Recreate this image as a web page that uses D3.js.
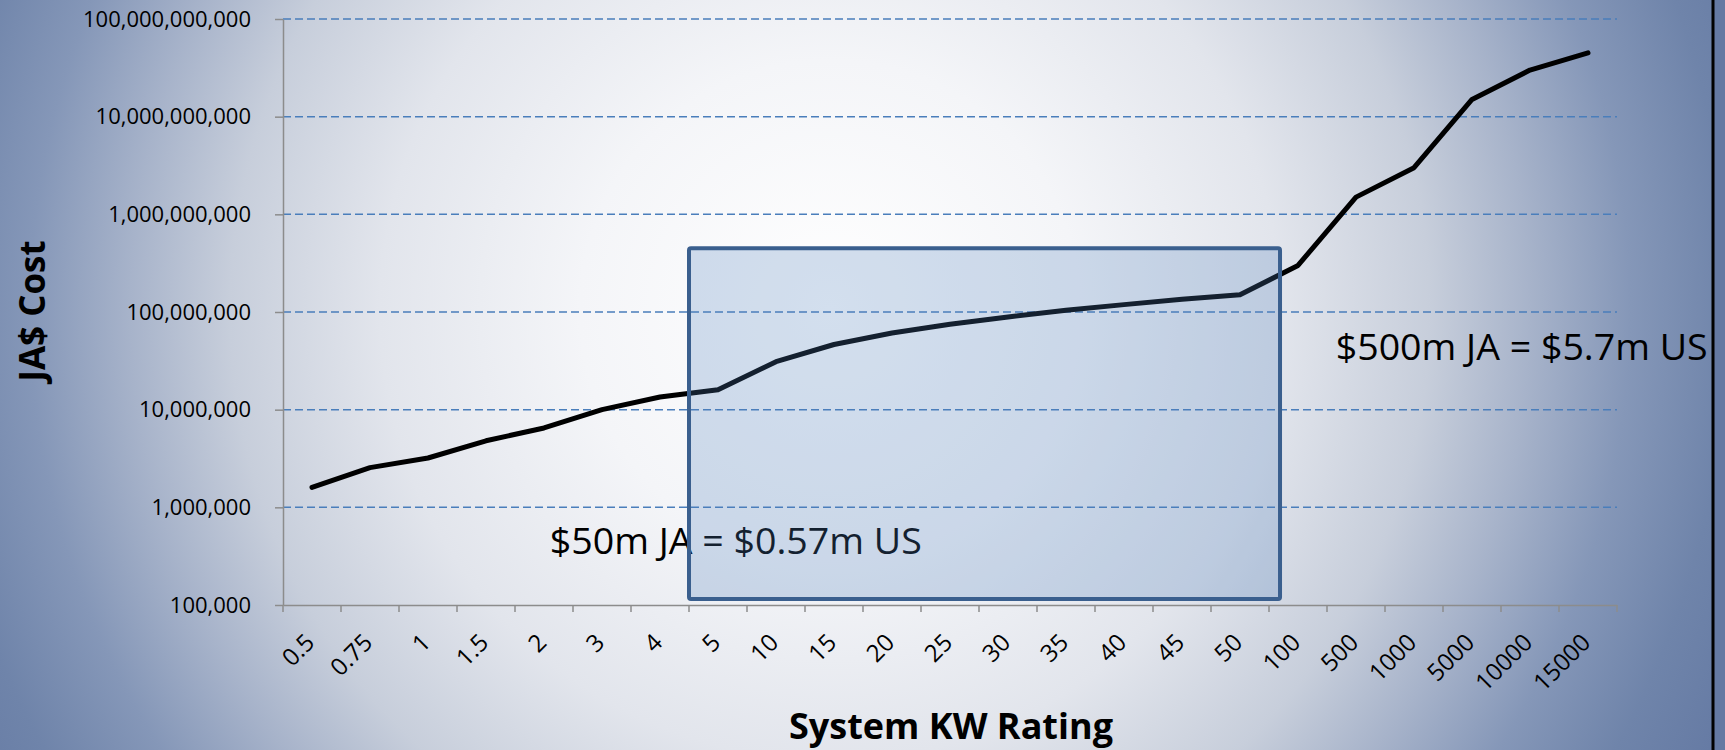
<!DOCTYPE html>
<html>
<head>
<meta charset="utf-8">
<script src="https://cdnjs.cloudflare.com/ajax/libs/d3/7.8.5/d3.min.js"></script>
<style>
  body { margin: 0; overflow: hidden; }
  svg { display: block; }
</style>
</head>
<body>
<svg></svg>
<script>
// system ratings (kW) and JA$ cost
var ratings = ["0.5", "0.75", "1", "1.5", "2", "3", "4", "5", "10", "15", "20", "25",
               "30", "35", "40", "45", "50", "100", "500", "1000", "5000", "10000", "15000"];
var costs = [1.6e6, 2.55e6, 3.2e6, 4.8e6, 6.5e6, 1.0e7, 1.35e7, 1.6e7, 3.1e7, 4.65e7, 6.1e7, 7.5e7,
             8.9e7, 1.04e8, 1.19e8, 1.35e8, 1.5e8, 3.0e8, 1.5e9, 3.0e9, 1.5e10, 3.0e10, 4.5e10];
var costTicks = [1e5, 1e6, 1e7, 1e8, 1e9, 1e10, 1e11];

// highlighted box: from the "5" band to a bit into the "100" band
var boxRatings = ["5", "100"];
var boxCosts = [1.15e5, 4.5e8];
var notes = ["$50m JA = $0.57m US", "$500m JA = $5.7m US"];

document.addEventListener("DOMContentLoaded", function() {

    var width = 1725;
    var height = 750;
    var plotLeft = 283, plotRight = 1617, plotTop = 19, plotBottom = 605;
    var font = '"Open Sans", "Noto Sans", sans-serif';

    var svg = d3.select("svg")
                .attr("width", width)
                .attr("height", height);

    // background: radial light spot fading to steel blue
    var grad = svg.append("defs").append("radialGradient")
                  .attr("id", "bg")
                  .attr("gradientUnits", "userSpaceOnUse")
                  .attr("cx", 830).attr("cy", 310).attr("r", 1000);
    [[0, "#ffffff"], [0.25, "#f4f5f8"], [0.45, "#e2e5ec"], [0.6, "#c7cedb"],
     [0.7, "#a7b3ca"], [0.8, "#8597b8"], [0.9, "#6f84aa"], [1, "#6479a3"]].forEach(function(s) {
        grad.append("stop").attr("offset", s[0]).attr("stop-color", s[1]);
    });

    svg.append("rect")
        .attr("width", width).attr("height", height)
        .attr("fill", "url(#bg)");

    svg.append("rect")
        .attr("x", 1714).attr("width", width - 1714).attr("height", height)
        .attr("fill", "#6479a3");
    svg.append("line")
        .attr("x1", 1713).attr("x2", 1713).attr("y1", 0).attr("y2", height)
        .attr("stroke", "#000").attr("stroke-width", 3);

    var xScale = d3.scaleBand()
                   .domain(ratings)
                   .range([plotLeft, plotRight]);
    var yScale = d3.scaleLog()
                   .domain([1e5, 1e11])
                   .range([plotBottom, plotTop]);

    // dashed gridlines
    svg.append("g")
        .selectAll("line")
        .data(costTicks.slice(1))
        .enter()
          .append("line")
          .attr("x1", plotLeft).attr("x2", plotRight)
          .attr("y1", d => yScale(d)).attr("y2", d => yScale(d))
          .attr("stroke", "#4a7ebb")
          .attr("stroke-width", 1.5)
          .attr("stroke-dasharray", "8,4");

    // y axis
    var yAxis = svg.append("g")
        .attr("transform", `translate(${plotLeft},0)`)
        .call(d3.axisLeft(yScale)
                .tickValues(costTicks)
                .tickFormat(d3.format(","))
                .tickSize(8)
                .tickSizeOuter(0)
                .tickPadding(24));
    yAxis.selectAll("text")
        .style("font-family", font)
        .style("font-size", "22px")
        .attr("fill", "#000");

    // x axis, ticks on band edges
    var xAxis = svg.append("g")
        .attr("transform", `translate(0,${plotBottom})`)
        .call(d3.axisBottom(xScale).tickSize(0).tickSizeOuter(0));
    xAxis.selectAll("text")
        .attr("x", 0).attr("y", 0).attr("dy", 0)
        .attr("transform", "translate(4,39) rotate(-45)")
        .style("text-anchor", "end")
        .style("font-family", font)
        .style("font-size", "24px")
        .attr("fill", "#000");
    xAxis.selectAll(".edge")
        .data(ratings.concat([null]))
        .enter()
          .append("line")
          .attr("class", "edge")
          .attr("x1", (d, i) => plotLeft + i * xScale.bandwidth())
          .attr("x2", (d, i) => plotLeft + i * xScale.bandwidth())
          .attr("y1", 0).attr("y2", 7);

    svg.selectAll(".domain, .tick line, .edge")
        .attr("stroke", "#8c8c8c")
        .attr("stroke-width", 1.5);

    // cost line
    var line = d3.line()
                 .x((d, i) => xScale(ratings[i]) + xScale.bandwidth() / 2)
                 .y(d => yScale(d));
    svg.append("path")
        .datum(costs)
        .attr("d", line)
        .attr("fill", "none")
        .attr("stroke", "#000")
        .attr("stroke-width", 5)
        .attr("stroke-linejoin", "round")
        .attr("stroke-linecap", "round");

    // annotations
    svg.append("text")
        .attr("x", xScale("2") + 0.6 * xScale.bandwidth())
        .attr("y", yScale(3.3e5))
        .attr("textLength", 372)
        .attr("lengthAdjust", "spacingAndGlyphs")
        .style("font-family", font)
        .style("font-size", "37px")
        .text(notes[0]);
    svg.append("text")
        .attr("x", xScale("500") + 0.15 * xScale.bandwidth())
        .attr("y", yScale(3.0e7) - 3)
        .attr("textLength", 372)
        .attr("lengthAdjust", "spacingAndGlyphs")
        .style("font-family", font)
        .style("font-size", "37px")
        .text(notes[1]);

    // highlight box drawn over the line
    var bx0 = xScale(boxRatings[0]);
    var bx1 = xScale(boxRatings[1]) + 0.19 * xScale.bandwidth();
    svg.append("rect")
        .attr("x", bx0)
        .attr("y", yScale(boxCosts[1]))
        .attr("width", bx1 - bx0)
        .attr("height", yScale(boxCosts[0]) - yScale(boxCosts[1]))
        .attr("rx", 2)
        .attr("fill", "rgba(79,129,189,0.25)")
        .attr("stroke", "#3a5f8e")
        .attr("stroke-width", 4);

    // axis titles
    svg.append("text")
        .attr("transform", "translate(45,311) rotate(-90)")
        .attr("text-anchor", "middle")
        .style("font-family", font)
        .style("font-weight", "bold")
        .style("font-size", "35px")
        .text("JA$ Cost");
    svg.append("text")
        .attr("x", (plotLeft + plotRight) / 2 + 1)
        .attr("y", 739)
        .attr("text-anchor", "middle")
        .style("font-family", font)
        .style("font-weight", "bold")
        .style("font-size", "36px")
        .text("System KW Rating");
});
</script>
</body>
</html>
